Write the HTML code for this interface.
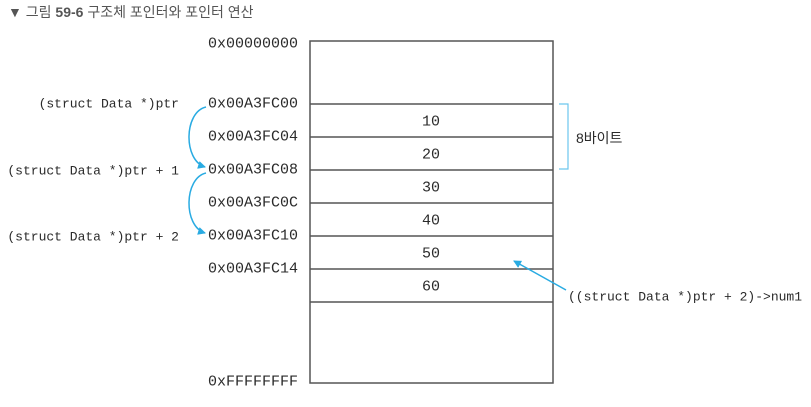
<!DOCTYPE html>
<html><head><meta charset="utf-8"><style>
html,body{margin:0;padding:0;background:#fff;}
svg text{font-family:"Liberation Mono","DejaVu Sans Mono","Noto Sans CJK KR",monospace;fill:#2a2a2a;}
</style></head><body>
<svg width="811" height="402" viewBox="0 0 811 402" xmlns="http://www.w3.org/2000/svg">
<defs><marker id="ah" markerWidth="8" markerHeight="8" refX="7" refY="4" orient="auto" markerUnits="userSpaceOnUse"><path d="M0,0 L8,4 L0,8 Z" fill="#29abe2"/></marker></defs>
<text x="8" y="17" style="font-family:'Liberation Sans','Noto Sans CJK KR',sans-serif;font-size:14px;fill:#555">▼ 그림 <tspan font-weight="bold">59-6</tspan> 구조체 포인터와 포인터 연산</text>
<g stroke="#555" stroke-width="1.5" fill="none">
<rect x="310" y="41" width="243" height="342"/>
<line x1="310" y1="104" x2="553" y2="104"/>
<line x1="310" y1="137" x2="553" y2="137"/>
<line x1="310" y1="170" x2="553" y2="170"/>
<line x1="310" y1="203" x2="553" y2="203"/>
<line x1="310" y1="236" x2="553" y2="236"/>
<line x1="310" y1="269" x2="553" y2="269"/>
<line x1="310" y1="302" x2="553" y2="302"/>
</g>
<g font-size="15" text-anchor="end" dominant-baseline="central">
<text x="298" y="44">0x00000000</text>
<text x="298" y="104">0x00A3FC00</text>
<text x="298" y="137">0x00A3FC04</text>
<text x="298" y="170">0x00A3FC08</text>
<text x="298" y="203">0x00A3FC0C</text>
<text x="298" y="236">0x00A3FC10</text>
<text x="298" y="269">0x00A3FC14</text>
<text x="298" y="382">0xFFFFFFFF</text>
</g>
<g font-size="13" text-anchor="end" dominant-baseline="central">
<text x="179" y="104">(struct Data *)ptr</text>
<text x="179" y="171">(struct Data *)ptr + 1</text>
<text x="179" y="237">(struct Data *)ptr + 2</text>
</g>
<g font-size="15" text-anchor="middle" dominant-baseline="central">
<text x="431" y="122">10</text>
<text x="431" y="155">20</text>
<text x="431" y="188">30</text>
<text x="431" y="221">40</text>
<text x="431" y="254">50</text>
<text x="431" y="287">60</text>
</g>
<path d="M559,104 H568 V169 H559" stroke="#6cc6ee" stroke-width="1.2" fill="none"/>
<text x="576" y="138" font-size="14" dominant-baseline="central" style="font-family:'Liberation Sans','Noto Sans CJK KR',sans-serif">8바이트</text>
<g stroke="#29abe2" stroke-width="1.5" fill="none">
<path d="M206,107 C184,112 183,160 205,167" marker-end="url(#ah)"/>
<path d="M206,173 C184,178 183,226 205,233" marker-end="url(#ah)"/>
<line x1="566" y1="290" x2="514" y2="261" marker-end="url(#ah)"/>
</g>
<text x="568" y="297" font-size="13" dominant-baseline="central">((struct Data *)ptr + 2)-&gt;num1</text>
</svg>
</body></html>
